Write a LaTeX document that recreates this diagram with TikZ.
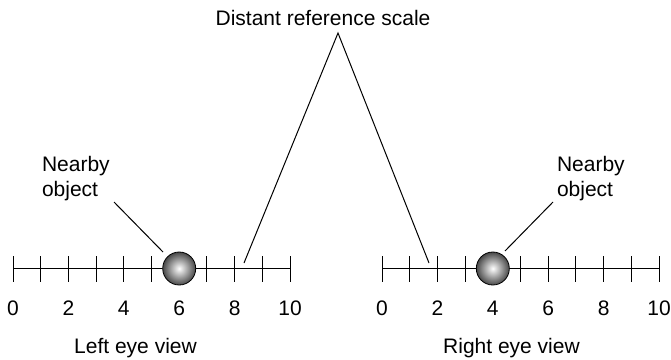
\documentclass[tikz,border=0pt]{standalone}
\usepackage{fontspec}
\setmainfont{Liberation Sans}
\begin{document}
\begin{tikzpicture}[x=1pt,y=-1pt,line width=1pt,
  lbl/.style={font=\fontsize{21}{25}\selectfont,inner sep=0pt,anchor=base},
  twoline/.style={font=\fontsize{21}{25}\selectfont,inner sep=0pt,anchor=north west,align=left},
  ballstyle/.style={circle,minimum size=33pt,inner sep=0pt,draw=black,line width=0.8pt,
    shading=radial,inner color=white,outer color=black!72},
  tick/.style={line width=1pt}]
\useasboundingbox (0,0) rectangle (671,359);
% left scale
\draw (13,268.5) -- (290,268.5);
\foreach \i in {0,...,10} \draw[tick] (13+27.7*\i,256) -- (13+27.7*\i,282);
\foreach \i in {0,2,...,10} \node[lbl] at (13+27.7*\i,315) {\i};
% right scale
\draw (382,268.5) -- (659,268.5);
\foreach \i in {0,...,10} \draw[tick] (382+27.7*\i,256) -- (382+27.7*\i,282);
\foreach \i in {0,2,...,10} \node[lbl] at (382+27.7*\i,315) {\i};
% balls
\node[ballstyle] (ballL) at (179.2,268.5) {};
\node[ballstyle] (ballR) at (492.8,268.5) {};
% distant reference
\node[lbl] (distant) at (323,25) {Distant reference scale};
\coordinate (apex) at (338,33);
\coordinate (scaleL) at (244,263);
\coordinate (scaleR) at (429,263);
\draw (scaleL) -- (apex) -- (scaleR);
% nearby labels
\node[twoline] (nearL) at (41.5,156) {Nearby\\object};
\node[twoline] (nearR) at (556.5,156) {Nearby\\object};
\coordinate (nearLs) at (114,202);
\coordinate (nearLe) at (163,252);
\coordinate (nearRs) at (553,202);
\coordinate (nearRe) at (505,251);
\draw (nearLs) -- (nearLe);
\draw (nearRs) -- (nearRe);
% eye labels
\node[lbl] (lefteye) at (135.5,353) {Left eye view};
\node[lbl] (righteye) at (511.5,353) {Right eye view};
\end{tikzpicture}
\end{document}
